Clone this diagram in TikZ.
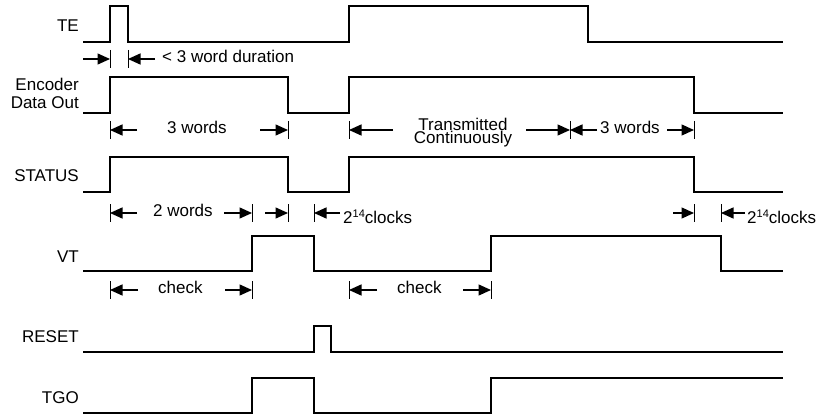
\documentclass[tikz,border=0pt]{standalone}
\usepackage{fontspec}
\setmainfont{Liberation Sans}
\usetikzlibrary{arrows.meta}
\tikzset{
  wave/.style={line width=1.5pt, line join=miter},
  tickmark/.style={line width=1pt},
  dimarrow/.style={line width=1.4pt, -{Triangle[length=12.5pt,width=11pt]}},
  siglabel/.style={anchor=base east, inner sep=0pt, font=\fontsize{17}{17}\selectfont},
  dimtext/.style={anchor=mid west, inner sep=0pt, font=\fontsize{17}{17}\selectfont},
}
\begin{document}
\begin{tikzpicture}[x=1pt,y=-1pt]
\useasboundingbox (0,0) rectangle (825,417);
% signal labels
\node[siglabel] (lte) at (79,32) {TE};
\node[siglabel] (lenc1) at (79,90.7) {Encoder};
\node[siglabel] (lenc2) at (79,108.3) {Data Out};
\node[siglabel] (lst) at (79,181.7) {STATUS};
\node[siglabel] (lvt) at (79,262) {VT};
\node[siglabel] (lrs) at (79,342) {RESET};
\node[siglabel] (ltgo) at (79,403) {TGO};
% waveforms
\draw[wave] (83,42) -- (110,42) -- (110,6) -- (128,6) -- (128,42) -- (349,42) -- (349,6) -- (588,6) -- (588,42) -- (783,42);
\draw[wave] (83,113) -- (110,113) -- (110,77) -- (288,77) -- (288,113) -- (349,113) -- (349,77) -- (694,77) -- (694,113) -- (783,113);
\draw[wave] (83,192) -- (110,192) -- (110,157) -- (288,157) -- (288,192) -- (349,192) -- (349,157) -- (694,157) -- (694,192) -- (783,192);
\draw[wave] (83,271) -- (252,271) -- (252,236) -- (314,236) -- (314,271) -- (491,271) -- (491,236) -- (721,236) -- (721,271) -- (783,271);
\draw[wave] (83,352) -- (314,352) -- (314,326) -- (331,326) -- (331,352) -- (783,352);
\draw[wave] (83,413) -- (252,413) -- (252,378) -- (314,378) -- (314,413) -- (491,413) -- (491,378) -- (783,378);
% ---- row 1 (TE)
\foreach \x/\n in {110/ta1,128/ta2} {
  \coordinate (\n) at (\x,59);
  \draw[tickmark] (\x,50) -- (\x,68);
}
\coordinate (ta1s) at (83,59);
\coordinate (ta2s) at (155,59);
\draw[dimarrow] (ta1s) -- (ta1);
\draw[dimarrow] (ta2s) -- (ta2);
\node[dimtext] (tdur) at (162,60) {< 3 word duration};
% ---- row 2 (Encoder)
\foreach \x/\n in {110/tb1,288/tb2,349/tb3,570/tb4,694/tb5} {
  \coordinate (\n) at (\x,130);
  \draw[tickmark] (\x,121) -- (\x,139);
}
\coordinate (tb1s) at (137,130);
\coordinate (tb2s) at (260,130);
\coordinate (tb3s) at (393,130);
\coordinate (tb4s) at (526,130);
\coordinate (tb4t) at (597,130);
\coordinate (tb5s) at (667,130);
\draw[dimarrow] (tb1s) -- (tb1);
\draw[dimarrow] (tb2s) -- (tb2);
\draw[dimarrow] (tb3s) -- (tb3);
\draw[dimarrow] (tb4s) -- (tb4);
\draw[dimarrow] (tb4t) -- (tb4);
\draw[dimarrow] (tb5s) -- (tb5);
\node[dimtext] (t3w) at (167,131) {3 words};
\node[anchor=base, inner sep=0pt, align=center, font=\fontsize{17}{11.5}\selectfont] (ttc) at (463,143.5) {Transmitted\\Continuously};
\node[dimtext] (t3wb) at (600,131) {3 words};
% ---- row 3 (STATUS)
\foreach \x/\n in {110/tc1,252/tc2,288/tc3,314/tc4,694/tc5,721/tc6} {
  \coordinate (\n) at (\x,213);
  \draw[tickmark] (\x,204) -- (\x,222);
}
\coordinate (tc1s) at (137,213);
\coordinate (tc2s) at (224,213);
\coordinate (tc3s) at (265,213);
\coordinate (tc4s) at (340,213);
\coordinate (tc5s) at (673,213);
\coordinate (tc6s) at (745,213);
\draw[dimarrow] (tc1s) -- (tc1);
\draw[dimarrow] (tc2s) -- (tc2);
\draw[dimarrow] (tc3s) -- (tc3);
\draw[dimarrow] (tc4s) -- (tc4);
\draw[dimarrow] (tc5s) -- (tc5);
\draw[dimarrow] (tc6s) -- (tc6);
\node[dimtext] (t2w) at (153,214) {2 words};
\node[anchor=base west, inner sep=0pt, font=\fontsize{17}{17}\selectfont] (tclk1) at (343,223.3) {2\raisebox{6pt}{\fontsize{11}{11}\selectfont 14}clocks};
\node[anchor=base west, inner sep=0pt, font=\fontsize{17}{17}\selectfont] (tclk2) at (747,223.3) {2\raisebox{6pt}{\fontsize{11}{11}\selectfont 14}clocks};
% ---- row 4 (VT)
\foreach \x/\n in {110/td1,252/td2,349/td3,491/td4} {
  \coordinate (\n) at (\x,290);
  \draw[tickmark] (\x,281) -- (\x,299);
}
\coordinate (td1s) at (138,290);
\coordinate (td2s) at (225,290);
\coordinate (td3s) at (377,290);
\coordinate (td4s) at (463,290);
\draw[dimarrow] (td1s) -- (td1);
\draw[dimarrow] (td2s) -- (td2);
\draw[dimarrow] (td3s) -- (td3);
\draw[dimarrow] (td4s) -- (td4);
\node[dimtext] (tchk1) at (158,291) {check};
\node[dimtext] (tchk2) at (397,291) {check};
\end{tikzpicture}
\end{document}
